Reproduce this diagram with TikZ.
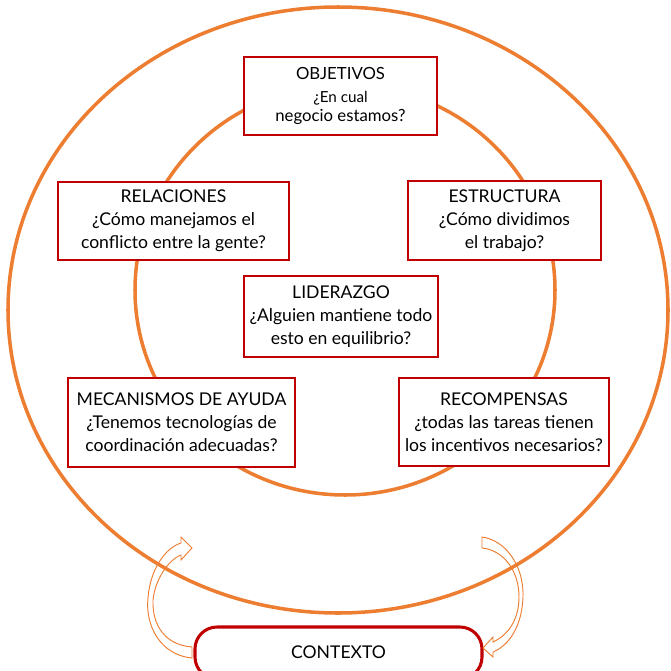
\documentclass[tikz,border=0pt]{standalone}
\usepackage{fontspec}
\setmainfont{Lato}
\usepackage{tikz}
\definecolor{naranja}{HTML}{ED7D31}
\definecolor{rojo}{HTML}{C00000}

\begin{document}
\begin{tikzpicture}[x=0.03cm, y=-0.03cm,
    caja/.style={draw=rojo, line width=1.4pt, fill=white, align=center, inner sep=0pt,
                 font=\fontsize{15}{19.6}\selectfont},
    anillo/.style={draw=naranja, line width=3pt},
    flecha/.style={draw=naranja, line width=0.8pt, line join=miter}]
    \useasboundingbox (0,0) rectangle (671,670);

    \draw[anillo] (338,310) ellipse [x radius=330, y radius=303];
    \draw[anillo] (345,290) ellipse [x radius=210, y radius=205];

    \node[caja, minimum width=193*0.03cm, minimum height=78*0.03cm,
          font=\fontsize{14.3}{19.6}\selectfont] (obj) at (340.5,96)
        {\raisebox{-3pt}{OBJETIVOS}\\\fontsize{13}{15}\selectfont\raisebox{-3pt}{¿En cual}\\[-4pt]\raisebox{-3pt}{negocio estamos?}};
    \node[caja, minimum width=231*0.03cm, minimum height=78*0.03cm] (rel) at (173.5,221)
        {RELACIONES\\¿Cómo manejamos el\\conflicto entre la gente?};
    \node[caja, minimum width=193*0.03cm, minimum height=79*0.03cm] (est) at (504.5,220.5)
        {ESTRUCTURA\\¿Cómo dividimos\\el trabajo?};
    \node[caja, minimum width=194*0.03cm, minimum height=81*0.03cm] (lid) at (341,316.5)
        {LIDERAZGO\\¿Alguien mantiene todo\\esto en equilibrio?};
    \node[caja, minimum width=227*0.03cm, minimum height=89*0.03cm] (mec) at (181.5,422.5)
        {MECANISMOS DE AYUDA\\¿Tenemos tecnologías de\\coordinación adecuadas?};
    \node[caja, minimum width=210*0.03cm, minimum height=88*0.03cm] (rec) at (504,422)
        {RECOMPENSAS\\¿todas las tareas tienen\\los incentivos necesarios?};
    \node[caja, draw=rojo, line width=2.6pt, rounded corners=22*0.03cm,
          minimum width=287*0.03cm, minimum height=52*0.03cm] (ctx) at (338.5,653)
        {\raisebox{2pt}{CONTEXTO}};

    % flechas curvas entre el contexto y el anillo
    \draw[flecha] (192,647) -- (192,658)
        .. controls (160,655) and (145,625) .. (148,598)
        .. controls (150,570) and (165,548) .. (181,543)
        -- (181,537) -- (192,548) -- (181,560) -- (181,555)
        .. controls (168,560) and (155,580) .. (153,600)
        .. controls (152,625) and (165,645) .. (192,647) -- cycle;
    \draw[flecha] (482,537)
        .. controls (505,540) and (524,565) .. (523,597)
        .. controls (522,625) and (510,645) .. (493,652)
        -- (493,657) -- (483,648) -- (493,637) -- (493,642)
        .. controls (508,635) and (519,620) .. (519,597)
        .. controls (519,570) and (503,550) .. (482,548) -- cycle;
\end{tikzpicture}
\end{document}
